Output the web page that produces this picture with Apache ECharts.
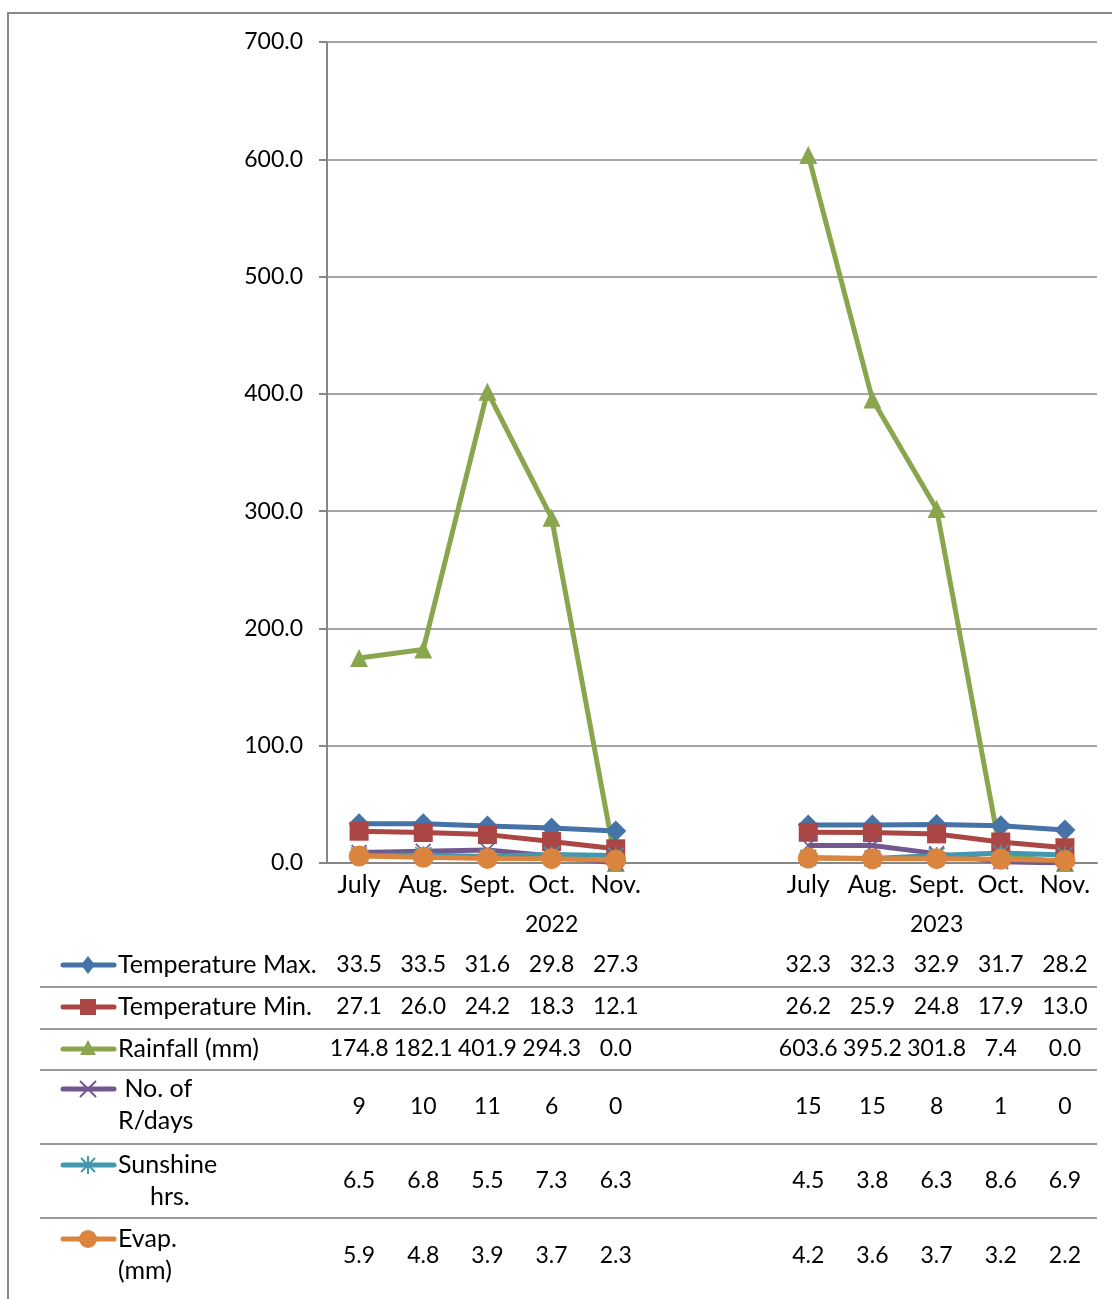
<!DOCTYPE html>
<html>
<head>
<meta charset="utf-8">
<script src="https://cdn.jsdelivr.net/npm/echarts@6/dist/echarts.min.js"></script>
<style>
  html, body { margin: 0; padding: 0; background: #fff; }
  #main { width: 1112px; height: 1299px; }
</style>
</head>
<body>
<div id="main"></div>
<script>
// categories: 2022 months, two empty slots, 2023 months
const months = ['July', 'Aug.', 'Sept.', 'Oct.', 'Nov.', '', '', 'July', 'Aug.', 'Sept.', 'Oct.', 'Nov.']
const yearLabels = ['', '', '', '2022', '', '', '', '', '', '2023', '', '']
const yTicks = [0, 100, 200, 300, 400, 500, 600, 700]

const tempMax = [33.5, 33.5, 31.6, 29.8, 27.3, null, null, 32.3, 32.3, 32.9, 31.7, 28.2]
const tempMin = [27.1, 26.0, 24.2, 18.3, 12.1, null, null, 26.2, 25.9, 24.8, 17.9, 13.0]
const rainfall = [174.8, 182.1, 401.9, 294.3, 0.0, null, null, 603.6, 395.2, 301.8, 7.4, 0.0]
const rainDays = [9, 10, 11, 6, 0, null, null, 15, 15, 8, 1, 0]
const sunshine = [6.5, 6.8, 5.5, 7.3, 6.3, null, null, 4.5, 3.8, 6.3, 8.6, 6.9]
const evap = [5.9, 4.8, 3.9, 3.7, 2.3, null, null, 4.2, 3.6, 3.7, 3.2, 2.2]

const FONT = 'Lato'
const FS = 25 // words
const NS = 23 // numbers (Calibri digits are narrow)

// filled X and asterisk shapes
const crossPath = 'path://M1.5,0L10,8.5L18.5,0L20,1.5L11.5,10L20,18.5L18.5,20L10,11.5L1.5,20L0,18.5L8.5,10L0,1.5Z'
const starPath = 'path://M9,0L11,0L11,20L9,20ZM0,9L20,9L20,11L0,11ZM1.4,0L20,18.6L18.6,20L0,1.4ZM18.6,0L20,1.4L1.4,20L0,18.6Z'

const seriesDefs = [
  { name: 'Temperature Max.', lines: ['Temperature Max.'], data: tempMax, color: '#4572A7', symbol: 'diamond', size: 21, digits: 1 },
  { name: 'Temperature Min.', lines: ['Temperature Min.'], data: tempMin, color: '#AA4643', symbol: 'rect', size: 19, digits: 1 },
  { name: 'Rainfall (mm)', lines: ['Rainfall (mm)'], data: rainfall, color: '#89A54E', symbol: 'triangle', size: 18, digits: 1 },
  { name: 'No. of R/days', lines: [' No. of', 'R/days'], data: rainDays, color: '#71588F', symbol: crossPath, size: 16, digits: 0 },
  { name: 'Sunshine hrs.', lines: ['Sunshine', '     hrs.'], data: sunshine, color: '#4198AF', symbol: starPath, size: 17, digits: 1 },
  { name: 'Evap. (mm)', lines: ['Evap.', '(mm)'], data: evap, color: '#DB843D', symbol: 'circle', size: 21, digits: 1 }
]

// table layout
const keyY = [965, 1007, 1049, 1089, 1165, 1239]
const valueY = [965, 1007, 1049, 1107, 1181, 1256]
const sepY = [987, 1029, 1070, 1144, 1218]
const lineGap = 32

const chart = echarts.init(document.getElementById('main'))

chart.setOption({
  animation: false,
  textStyle: { fontFamily: FONT },
  grid: { left: 327, right: 15, top: 42, bottom: 436, containLabel: false },
  xAxis: [
    {
      type: 'category',
      data: months,
      boundaryGap: true,
      axisLine: { lineStyle: { color: '#878787', width: 2 } },
      axisTick: { show: false },
      axisLabel: { interval: 0, color: '#000', fontSize: FS, fontFamily: FONT, margin: 9 }
    },
    {
      type: 'category',
      data: yearLabels,
      position: 'bottom',
      boundaryGap: true,
      axisLine: { show: false },
      axisTick: { show: false },
      axisLabel: { interval: 0, color: '#000', fontSize: NS, fontFamily: FONT, margin: 50 }
    }
  ],
  yAxis: {
    type: 'value',
    min: yTicks[0],
    max: yTicks[yTicks.length - 1],
    interval: 100,
    axisLine: { show: true, lineStyle: { color: '#878787', width: 2 } },
    axisTick: { show: true, inside: false, length: 8, lineStyle: { color: '#878787', width: 2 } },
    axisLabel: { color: '#000', fontSize: NS, fontFamily: FONT, margin: 24, formatter: v => v.toFixed(1) },
    splitLine: { lineStyle: { color: '#878787', width: 1.5 } }
  },
  series: seriesDefs.map(s => ({
    name: s.name,
    type: 'line',
    data: s.data,
    connectNulls: false,
    symbol: s.symbol,
    symbolSize: s.size,
    showAllSymbol: true,
    lineStyle: { color: s.color, width: 5 },
    itemStyle: { color: s.color, borderColor: s.color, borderWidth: 0 }
  }))
})

// data table below the plot
function keySymbol (s, cx, cy) {
  const c = s.color
  if (s.symbol === 'diamond') {
    return { type: 'polygon', shape: { points: [[cx, cy - 9], [cx + 7, cy], [cx, cy + 9], [cx - 7, cy]] }, style: { fill: c } }
  }
  if (s.symbol === 'rect') {
    return { type: 'rect', shape: { x: cx - 8, y: cy - 8, width: 16, height: 16 }, style: { fill: c } }
  }
  if (s.symbol === 'triangle') {
    return { type: 'polygon', shape: { points: [[cx, cy - 9], [cx + 8, cy + 6], [cx - 8, cy + 6]] }, style: { fill: c } }
  }
  if (s.symbol === 'circle') {
    return { type: 'circle', shape: { cx: cx, cy: cy, r: 9 }, style: { fill: c } }
  }
  if (s.symbol === crossPath) {
    return {
      type: 'group',
      children: [
        { type: 'line', shape: { x1: cx - 8, y1: cy - 8, x2: cx + 8, y2: cy + 8 }, style: { stroke: c, lineWidth: 2 } },
        { type: 'line', shape: { x1: cx + 8, y1: cy - 8, x2: cx - 8, y2: cy + 8 }, style: { stroke: c, lineWidth: 2 } }
      ]
    }
  }
  return {
    type: 'group',
    children: [
      { type: 'line', shape: { x1: cx, y1: cy - 9, x2: cx, y2: cy + 9 }, style: { stroke: c, lineWidth: 2 } },
      { type: 'line', shape: { x1: cx - 7, y1: cy - 7, x2: cx + 7, y2: cy + 7 }, style: { stroke: c, lineWidth: 2 } },
      { type: 'line', shape: { x1: cx + 7, y1: cy - 7, x2: cx - 7, y2: cy + 7 }, style: { stroke: c, lineWidth: 2 } }
    ]
  }
}

const graphics = []

// outer frame
graphics.push({
  type: 'polyline',
  shape: { points: [[8, 1299], [8, 13], [1112, 13]] },
  style: { stroke: '#888', lineWidth: 2, fill: null },
  silent: true
})

sepY.forEach(y => {
  graphics.push({ type: 'line', shape: { x1: 40, y1: y, x2: 1097, y2: y }, style: { stroke: '#9a9a9a', lineWidth: 2 } })
})

seriesDefs.forEach((s, i) => {
  const ky = keyY[i]
  graphics.push({ type: 'line', shape: { x1: 63, y1: ky, x2: 114, y2: ky }, style: { stroke: s.color, lineWidth: 5, lineCap: 'round' } })
  graphics.push(keySymbol(s, 88, ky))
  s.lines.forEach((t, j) => {
    graphics.push({
      type: 'text',
      style: { text: t, x: 118, y: ky + j * lineGap, fill: '#000', font: FS + 'px ' + FONT, textAlign: 'left', textVerticalAlign: 'middle' }
    })
  })
  s.data.forEach((v, idx) => {
    if (v === null) return
    const x = chart.convertToPixel({ xAxisIndex: 0 }, idx)
    graphics.push({
      type: 'text',
      style: { text: v.toFixed(s.digits), x: x, y: valueY[i], fill: '#000', font: NS + 'px ' + FONT, textAlign: 'center', textVerticalAlign: 'middle' }
    })
  })
})

chart.setOption({ graphic: graphics })
</script>
</body>
</html>
